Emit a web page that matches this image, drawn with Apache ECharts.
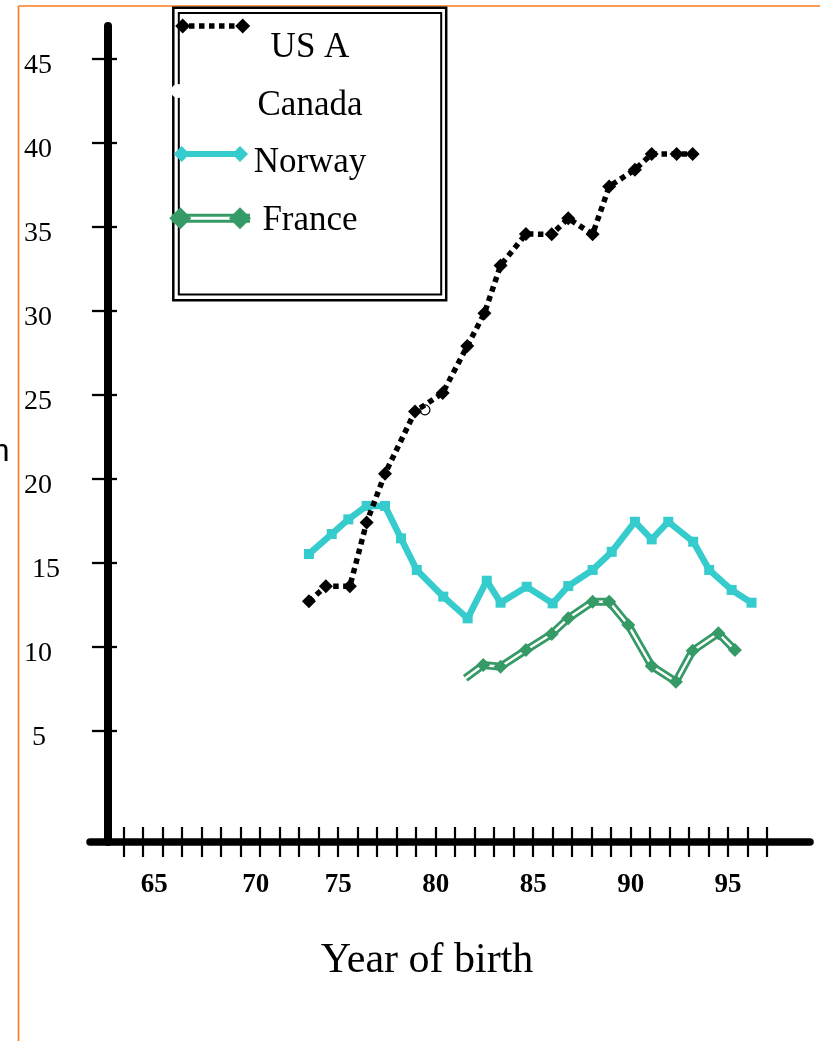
<!DOCTYPE html>
<html><head><meta charset="utf-8">
<script src="https://cdn.jsdelivr.net/npm/echarts@6/dist/echarts.min.js"></script>
<style>html,body{margin:0;padding:0;background:#fff}#c{width:820px;height:1041px}</style>
</head><body><div id="c"></div>
<script>
// ---- data ----
const usaX = [73.5, 74.37, 75.6, 76.46, 77.4, 78.94, 80.36, 81.62, 82.5, 83.33, 84.63, 85.95, 86.8, 88.05, 88.9, 90.22, 91.08, 92.36, 93.18];
const usaY = [12.7, 13.6, 13.6, 17.4, 20.3, 24.0, 25.1, 27.9, 29.85, 32.7, 34.57, 34.55, 35.5, 34.55, 37.4, 38.4, 39.33, 39.33, 39.33];
const canadaX = [79.45];
const canadaY = [24.1];
const norwayX = [73.5, 74.67, 75.52, 76.46, 77.4, 78.22, 79.03, 80.39, 81.64, 82.62, 83.33, 84.67, 86.0, 86.8, 88.05, 89.03, 90.22, 91.08, 91.93, 93.21, 94.03, 95.18, 96.2];
const norwayY = [15.52, 16.71, 17.58, 18.38, 18.38, 16.45, 14.57, 12.98, 11.69, 13.93, 12.62, 13.57, 12.58, 13.61, 14.57, 15.65, 17.44, 16.39, 17.44, 16.25, 14.57, 13.38, 12.62];
const franceX = [81.52, 82.44, 83.33, 84.63, 85.95, 86.8, 88.05, 88.9, 89.88, 91.08, 92.32, 93.18, 94.5, 95.35];
const franceY = [8.12, 8.91, 8.81, 9.8, 10.76, 11.69, 12.68, 12.68, 11.29, 8.85, 7.92, 9.76, 10.8, 9.8];
const xTickYears = [64,65,66,67,68,69,70,71,72,73,74,75,76,77,78,79,80,81,82,83,84,85,86,87,88,89,90,91,92,93,94,95,96,97];
const xLabelYears = [65, 70, 75, 80, 85, 90, 95];
const yTickValues = [5, 10, 15, 20, 25, 30, 35, 40, 45];
const legendNames = ['US A', 'Canada', 'Norway', 'France'];
const xAxisTitle = 'Year of birth';
const yAxisTitleFragment = 'h';

// ---- styles ----
const BLACK = '#000000', CYAN = '#36CBCC', GREEN = '#359A66', ORANGE = '#F87B1E';
const SERIF = "'Liberation Serif','Times New Roman',serif";
const pairs = (xs, ys) => xs.map((x, i) => [x, ys[i]]);
const X_MIN = 62.27, X_MAX = 99.2, Y_MIN = -1.625, Y_MAX = 46.95;

const chart = echarts.init(document.getElementById('c'), null, {renderer: 'canvas'});

const diamond = (cx, cy, h, color) => ({
  type: 'polygon', z: 102,
  shape: {points: [[cx, cy - h], [cx + h, cy], [cx, cy + h], [cx - h, cy]]},
  style: {fill: color}
});
const legendText = (txt, y) => ({
  type: 'text', z: 103, x: 310, y: y,
  style: {text: txt, fontFamily: SERIF, fontSize: 35, fill: BLACK, align: 'center', verticalAlign: 'middle'}
});

const graphics = [
  // orange frame
  {type: 'line', z: 90, shape: {x1: 18.5, y1: 6, x2: 820, y2: 6}, style: {stroke: ORANGE, lineWidth: 1.6}},
  {type: 'line', z: 90, shape: {x1: 18.5, y1: 6, x2: 18.5, y2: 1041}, style: {stroke: ORANGE, lineWidth: 1.6}},
  // y axis title fragment (cut off at the left edge)
  {type: 'text', z: 90, x: 9.5, y: 452, style: {text: yAxisTitleFragment, fontFamily: "'Liberation Sans',Arial,sans-serif", fontSize: 32, fill: BLACK, align: 'right', verticalAlign: 'middle'}},
  // legend box (double frame)
  {type: 'rect', z: 100, shape: {x: 173.3, y: 7.7, width: 272.9, height: 292.6}, style: {fill: '#fff', stroke: BLACK, lineWidth: 2.5}},
  {type: 'rect', z: 101, shape: {x: 178.8, y: 13, width: 262.4, height: 281.5}, style: {fill: 'none', stroke: BLACK, lineWidth: 2}},
  // US A
  {type: 'line', z: 102, shape: {x1: 189, y1: 26, x2: 236, y2: 26}, style: {stroke: BLACK, lineWidth: 5.5, lineDash: [5.5, 4.5]}},
  diamond(182.7, 26, 7.5, BLACK), diamond(242.7, 26, 7.5, BLACK),
  // Canada
  {type: 'circle', z: 102, shape: {cx: 178, cy: 91, r: 7}, style: {fill: '#fff'}},
  // Norway
  {type: 'line', z: 102, shape: {x1: 181.7, y1: 154, x2: 240, y2: 154}, style: {stroke: CYAN, lineWidth: 6}},
  diamond(181.7, 154, 8, CYAN), diamond(240, 154, 8, CYAN),
  // France
  {type: 'line', z: 102, shape: {x1: 171.7, y1: 218.3, x2: 250, y2: 218.3}, style: {stroke: GREEN, lineWidth: 9}},
  {type: 'line', z: 102, shape: {x1: 171.7, y1: 218.3, x2: 250, y2: 218.3}, style: {stroke: '#fff', lineWidth: 3}},
  diamond(180.3, 218.3, 11, GREEN), diamond(240, 218.3, 11, GREEN),
  legendText(legendNames[0], 48),
  legendText(legendNames[1], 106),
  legendText(legendNames[2], 163),
  legendText(legendNames[3], 221)
];

const yRich = {
  p: {fontFamily: SERIF, fontSize: 28, color: BLACK, padding: [14, 0, 0, 0]},
  q: {fontFamily: SERIF, fontSize: 28, color: BLACK, padding: [14, 0, 0, 8]}
};
const xRich = {
  n: {fontFamily: SERIF, fontSize: 27, fontWeight: 'bold', color: BLACK},
  a: {fontFamily: SERIF, fontSize: 27, fontWeight: 'bold', color: BLACK, padding: [0, 0, 0, 22]},
  b: {fontFamily: SERIF, fontSize: 27, fontWeight: 'bold', color: BLACK, padding: [0, 0, 0, 30]}
};

const option = {
  animation: false,
  backgroundColor: '#ffffff',
  grid: {left: 90, right: 10, top: 26, bottom: 199, containLabel: false},
  graphic: graphics,
  xAxis: [
    {
      type: 'value', min: X_MIN, max: X_MAX, position: 'bottom',
      name: xAxisTitle, nameLocation: 'middle', nameGap: 98,
      nameTextStyle: {fontFamily: SERIF, fontSize: 42, color: BLACK, padding: [0, 46, 0, 0]},
      axisLine: {show: true, onZero: false, lineStyle: {color: BLACK, width: 7.5}},
      axisTick: {show: true, customValues: xTickYears, length: 15, lineStyle: {color: BLACK, width: 2.2}},
      axisLabel: {
        show: true, customValues: xLabelYears, margin: 30,
        fontFamily: SERIF, fontSize: 27, fontWeight: 'bold', color: BLACK,
        formatter: v => (v === 65 ? '{a|' + v + '}' : v === 70 ? '{b|' + v + '}' : '{n|' + v + '}'),
        rich: xRich
      },
      splitLine: {show: false}
    },
    {
      type: 'value', min: X_MIN, max: X_MAX, position: 'bottom',
      axisLine: {show: false, onZero: false},
      axisTick: {show: true, inside: true, customValues: xTickYears, length: 15, lineStyle: {color: BLACK, width: 2.2}},
      axisLabel: {show: false},
      splitLine: {show: false}
    }
  ],
  yAxis: [
    {
      type: 'value', min: Y_MIN, max: Y_MAX, position: 'left', offset: -18,
      axisLine: {show: true, onZero: false, lineStyle: {color: BLACK, width: 8}},
      axisTick: {show: true, customValues: yTickValues, length: 16, lineStyle: {color: BLACK, width: 2.3}},
      axisLabel: {
        show: true, customValues: yTickValues, margin: 84, align: 'left',
        fontFamily: SERIF, fontSize: 28, color: BLACK,
        formatter: v => (v === 15 || v === 5 ? '{q|' + v + '}' : '{p|' + v + '}'),
        rich: yRich
      },
      splitLine: {show: false}
    },
    {
      type: 'value', min: Y_MIN, max: Y_MAX, position: 'left', offset: -18,
      axisLine: {show: false, onZero: false},
      axisTick: {show: true, inside: true, customValues: yTickValues, length: 9, lineStyle: {color: BLACK, width: 2.3}},
      axisLabel: {show: false},
      splitLine: {show: false}
    }
  ],
  series: [
    {
      name: legendNames[1], type: 'line', data: pairs(canadaX, canadaY),
      symbol: 'circle', symbolSize: 10,
      itemStyle: {color: '#fff', borderColor: BLACK, borderWidth: 1.2},
      lineStyle: {width: 0}, z: 2
    },
    {
      name: legendNames[2], type: 'line', data: pairs(norwayX, norwayY),
      symbol: 'rect', symbolSize: 10,
      itemStyle: {color: CYAN}, lineStyle: {color: CYAN, width: 6.5}, z: 3
    },
    {
      name: legendNames[3], type: 'line', data: pairs(franceX, franceY),
      symbol: 'none', lineStyle: {color: GREEN, width: 8}, z: 4
    },
    {
      name: legendNames[3] + ' inner', type: 'line', data: pairs(franceX, franceY),
      symbol: 'none', silent: true, lineStyle: {color: '#fff', width: 2.4}, z: 5
    },
    {
      name: legendNames[3] + ' markers', type: 'line', data: pairs(franceX, franceY),
      symbol: 'diamond', symbolSize: (v, p) => (p.dataIndex === 0 ? 0 : 14),
      itemStyle: {color: GREEN}, lineStyle: {opacity: 0, width: 0}, z: 6
    },
    {
      name: legendNames[0], type: 'line', data: pairs(usaX, usaY),
      symbol: 'diamond', symbolSize: 14,
      itemStyle: {color: BLACK}, lineStyle: {color: BLACK, width: 5.5, type: [5.5, 4.5]}, z: 7
    }
  ]
};
chart.setOption(option);
</script>
</body></html>
